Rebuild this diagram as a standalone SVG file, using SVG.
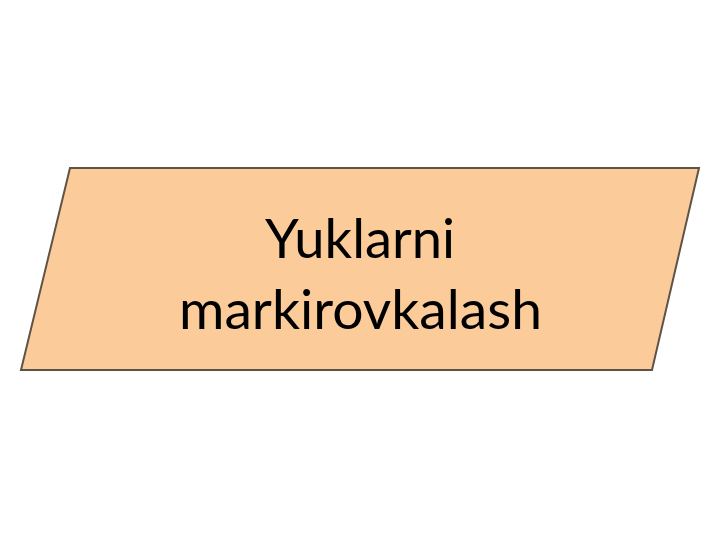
<svg xmlns="http://www.w3.org/2000/svg" width="720" height="540" viewBox="0 0 720 540">
  <style>
    .shape { fill: #FBCB99; stroke: #5E5346; stroke-width: 2; }
    .label { font-family: Lato, "Open Sans", "Liberation Sans", sans-serif; font-size: 55px; fill: #000; text-anchor: middle; }
  </style>
  <rect width="720" height="540" fill="#ffffff"/>
  <g id="node-yuklarni">
    <polygon class="shape" points="70,168 699,168 652,370 21,370"/>
    <text class="label" x="360" y="258" textLength="190" lengthAdjust="spacingAndGlyphs">Yuklarni</text>
    <text class="label" x="360.5" y="329" textLength="363" lengthAdjust="spacingAndGlyphs">markirovkalash</text>
  </g>
  <g id="connectors"></g>
</svg>
